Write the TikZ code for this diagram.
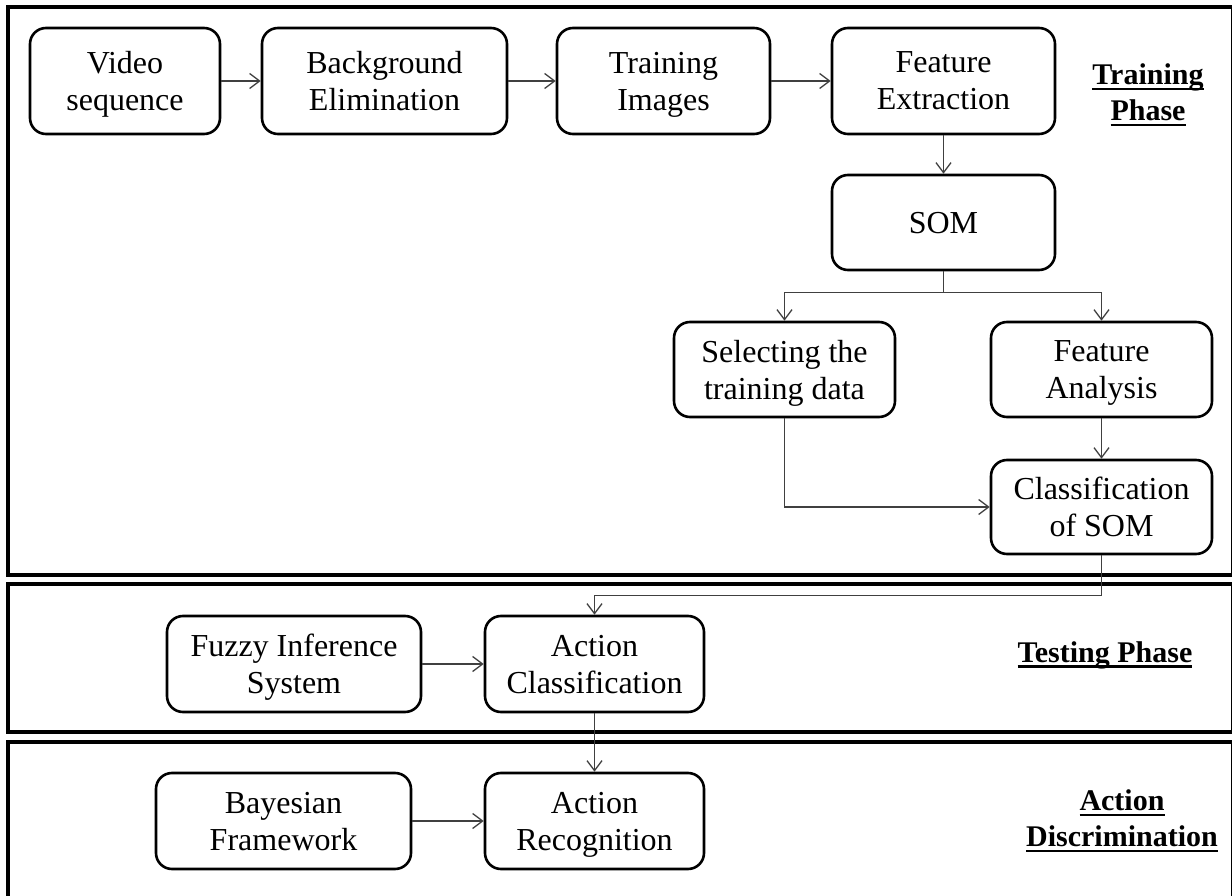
\documentclass[tikz,border=0pt]{standalone}
\usepackage{fontspec}
\setmainfont{Liberation Serif}
\usetikzlibrary{arrows.meta}

\def\zeiger#1#2{
	\draw[link] #1 -- #2;
}
\newcommand{\ulin}[1]{\setbox0\hbox{#1}\rlap{\rule[-5.5pt]{\wd0}{2.4pt}}\box0}

\tikzset{
	box/.style={draw,line width=2.6pt,rounded corners=16pt,align=center,inner sep=0pt,
		text depth=0pt,font=\fontsize{32}{37}\selectfont},
	link/.style={-{Straight Barb[length=10pt,width=15pt]},line width=1.3pt,draw=black!75},
	phase/.style={align=center,font=\fontsize{30}{36}\bfseries\selectfont},
	panel/.style={line width=3.5pt}
}

\begin{document}
\begin{tikzpicture}[x=1pt,y=-1pt]
\useasboundingbox (0,0) rectangle (1232,896);
% phases
\draw[panel] (8,7) rectangle (1233,575);
\draw[panel] (8,584) rectangle (1233,732);
\draw[panel] (8,742) rectangle (1233,902);
% training phase
\node[box,minimum width=190pt,minimum height=106pt] (video) at (125,81) {Video\\sequence};
\node[box,minimum width=245pt,minimum height=106pt] (backg) at (384.5,81) {Background\\Elimination};
\node[box,minimum width=213pt,minimum height=106pt] (trimg) at (663.5,81) {Training\\Images};
\node[box,minimum width=223pt,minimum height=106pt] (featx) at (943.5,81) {Feature\\Extraction};
\node[box,minimum width=223pt,minimum height=95pt] (som) at (943.5,222.5) {SOM};
\node[box,minimum width=221pt,minimum height=95pt] (select) at (784.5,369.5) {Selecting the\\training data};
\node[box,minimum width=221pt,minimum height=95pt] (fana) at (1101.5,369.5) {Feature\\Analysis};
\node[box,minimum width=221pt,minimum height=94pt] (csom) at (1101.5,507) {Classification\\of SOM};
\node[phase] (ttrain) at (1148,95) {\ulin{Training}\\\ulin{Phase}};
% testing phase
\node[box,minimum width=254pt,minimum height=96pt] (fuzzy) at (294,664) {Fuzzy Inference\\System};
\node[box,minimum width=219pt,minimum height=96pt] (acls) at (594.5,664) {Action\\Classification};
\node[phase] (ttest) at (1105,655) {\ulin{Testing Phase}};
% action discrimination
\node[box,minimum width=255pt,minimum height=96pt] (bayes) at (283.5,821) {Bayesian\\Framework};
\node[box,minimum width=219pt,minimum height=96pt] (arec) at (594.5,821) {Action\\Recognition};
\node[phase] (tdisc) at (1122,821) {\ulin{Action}\\\ulin{Discrimination}};
% connectors
\zeiger{(video)}{(backg)}
\zeiger{(backg)}{(trimg)}
\zeiger{(trimg)}{(featx)}
\zeiger{(featx)}{(som)}
\draw[link] (som.south) -- ++(0,21) -| (select.north);
\draw[link] (som.south) -- ++(0,21) -| (fana.north);
\zeiger{(fana)}{(csom)}
\draw[link] (select.south) |- (csom.west);
\draw[link] (csom.south) -- ++(0,40) -| (acls.north);
\zeiger{(fuzzy)}{(acls)}
\zeiger{(acls)}{(arec)}
\zeiger{(bayes)}{(arec)}
\end{tikzpicture}
\end{document}
